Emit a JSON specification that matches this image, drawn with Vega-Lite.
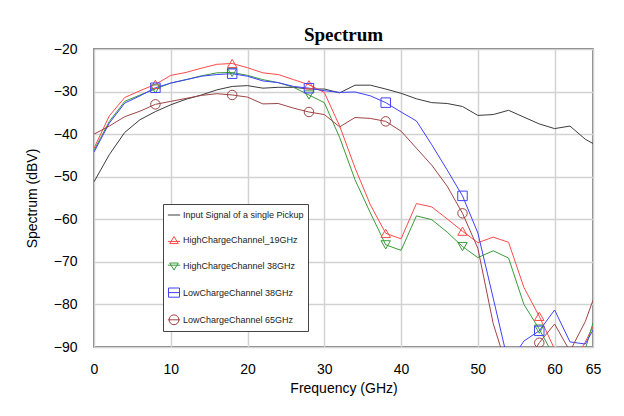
{
  "$schema": "https://vega.github.io/schema/vega-lite/v6.json",
  "width": 499,
  "height": 298,
  "autosize": {"type": "none"},
  "padding": {"left": 94, "top": 49, "right": 31, "bottom": 69},
  "background": "white",
  "title": {"text": "Spectrum", "font": "Liberation Serif", "fontSize": 19, "fontWeight": "bold", "color": "#000000", "anchor": "middle", "offset": -3},
  "data": {"values": [
    {"f": 0, "Input Signal of a single Pickup": -51.2, "HighChargeChannel_19GHz": -43.3, "HighChargeChannel 38GHz": -43.8, "LowChargeChannel 38GHz": -44.2, "LowChargeChannel 65GHz": -40.0},
    {"f": 2, "Input Signal of a single Pickup": -44.8, "HighChargeChannel_19GHz": -35.7, "HighChargeChannel 38GHz": -37.0, "LowChargeChannel 38GHz": -37.4, "LowChargeChannel 65GHz": -38.1},
    {"f": 4, "Input Signal of a single Pickup": -39.6, "HighChargeChannel_19GHz": -31.4, "HighChargeChannel 38GHz": -32.3, "LowChargeChannel 38GHz": -32.7, "LowChargeChannel 65GHz": -35.9},
    {"f": 6, "Input Signal of a single Pickup": -36.6, "HighChargeChannel_19GHz": -29.8, "HighChargeChannel 38GHz": -30.8, "LowChargeChannel 38GHz": -31.0, "LowChargeChannel 65GHz": -34.6},
    {"f": 8, "Input Signal of a single Pickup": -34.7, "HighChargeChannel_19GHz": -28.3, "HighChargeChannel 38GHz": -29.4, "LowChargeChannel 38GHz": -29.1, "LowChargeChannel 65GHz": -33.0},
    {"f": 10, "Input Signal of a single Pickup": -33.1, "HighChargeChannel_19GHz": -26.2, "HighChargeChannel 38GHz": -28.0, "LowChargeChannel 38GHz": -28.0, "LowChargeChannel 65GHz": -32.3},
    {"f": 12, "Input Signal of a single Pickup": -31.8, "HighChargeChannel_19GHz": -25.5, "HighChargeChannel 38GHz": -27.2, "LowChargeChannel 38GHz": -27.2, "LowChargeChannel 65GHz": -31.6},
    {"f": 14, "Input Signal of a single Pickup": -30.8, "HighChargeChannel_19GHz": -24.5, "HighChargeChannel 38GHz": -26.3, "LowChargeChannel 38GHz": -26.4, "LowChargeChannel 65GHz": -30.9},
    {"f": 16, "Input Signal of a single Pickup": -29.6, "HighChargeChannel_19GHz": -23.6, "HighChargeChannel 38GHz": -25.6, "LowChargeChannel 38GHz": -26.0, "LowChargeChannel 65GHz": -30.5},
    {"f": 18, "Input Signal of a single Pickup": -28.8, "HighChargeChannel_19GHz": -23.4, "HighChargeChannel 38GHz": -25.5, "LowChargeChannel 38GHz": -25.8, "LowChargeChannel 65GHz": -30.8},
    {"f": 20, "Input Signal of a single Pickup": -28.6, "HighChargeChannel_19GHz": -24.4, "HighChargeChannel 38GHz": -26.2, "LowChargeChannel 38GHz": -26.4, "LowChargeChannel 65GHz": -31.3},
    {"f": 22, "Input Signal of a single Pickup": -29.2, "HighChargeChannel_19GHz": -25.6, "HighChargeChannel 38GHz": -27.2, "LowChargeChannel 38GHz": -27.5, "LowChargeChannel 65GHz": -32.9},
    {"f": 24, "Input Signal of a single Pickup": -29.0, "HighChargeChannel_19GHz": -26.0, "HighChargeChannel 38GHz": -27.9, "LowChargeChannel 38GHz": -27.9, "LowChargeChannel 65GHz": -32.8},
    {"f": 26, "Input Signal of a single Pickup": -29.0, "HighChargeChannel_19GHz": -27.2, "HighChargeChannel 38GHz": -29.0, "LowChargeChannel 38GHz": -28.8, "LowChargeChannel 65GHz": -33.9},
    {"f": 28, "Input Signal of a single Pickup": -29.4, "HighChargeChannel_19GHz": -28.4, "HighChargeChannel 38GHz": -30.8, "LowChargeChannel 38GHz": -29.2, "LowChargeChannel 65GHz": -34.8},
    {"f": 30, "Input Signal of a single Pickup": -29.4, "HighChargeChannel_19GHz": -30.2, "HighChargeChannel 38GHz": -32.6, "LowChargeChannel 38GHz": -29.8, "LowChargeChannel 65GHz": -35.4},
    {"f": 32, "Input Signal of a single Pickup": -30.3, "HighChargeChannel_19GHz": -38.1, "HighChargeChannel 38GHz": -40.8, "LowChargeChannel 38GHz": -30.2, "LowChargeChannel 65GHz": -38.3},
    {"f": 34, "Input Signal of a single Pickup": -28.5, "HighChargeChannel_19GHz": -47.9, "HighChargeChannel 38GHz": -50.7, "LowChargeChannel 38GHz": -30.1, "LowChargeChannel 65GHz": -36.1},
    {"f": 36, "Input Signal of a single Pickup": -28.5, "HighChargeChannel_19GHz": -56.6, "HighChargeChannel 38GHz": -58.5, "LowChargeChannel 38GHz": -31.0, "LowChargeChannel 65GHz": -36.3},
    {"f": 38, "Input Signal of a single Pickup": -29.4, "HighChargeChannel_19GHz": -63.3, "HighChargeChannel 38GHz": -66.0, "LowChargeChannel 38GHz": -32.6, "LowChargeChannel 65GHz": -37.0},
    {"f": 40, "Input Signal of a single Pickup": -30.4, "HighChargeChannel_19GHz": -64.6, "HighChargeChannel 38GHz": -67.3, "LowChargeChannel 38GHz": -34.8, "LowChargeChannel 65GHz": -39.3},
    {"f": 42, "Input Signal of a single Pickup": -31.7, "HighChargeChannel_19GHz": -56.3, "HighChargeChannel 38GHz": -59.2, "LowChargeChannel 38GHz": -36.9, "LowChargeChannel 65GHz": -43.3},
    {"f": 44, "Input Signal of a single Pickup": -32.6, "HighChargeChannel_19GHz": -57.1, "HighChargeChannel 38GHz": -60.1, "LowChargeChannel 38GHz": -42.5, "LowChargeChannel 65GHz": -47.3},
    {"f": 46, "Input Signal of a single Pickup": -32.8, "HighChargeChannel_19GHz": -59.9, "HighChargeChannel 38GHz": -63.0, "LowChargeChannel 38GHz": -48.4, "LowChargeChannel 65GHz": -52.2},
    {"f": 48, "Input Signal of a single Pickup": -33.5, "HighChargeChannel_19GHz": -62.8, "HighChargeChannel 38GHz": -66.4, "LowChargeChannel 38GHz": -54.5, "LowChargeChannel 65GHz": -58.6},
    {"f": 50, "Input Signal of a single Pickup": -35.6, "HighChargeChannel_19GHz": -65.5, "HighChargeChannel 38GHz": -69.0, "LowChargeChannel 38GHz": -63.2, "LowChargeChannel 65GHz": -66.8},
    {"f": 52, "Input Signal of a single Pickup": -35.4, "HighChargeChannel_19GHz": -64.2, "HighChargeChannel 38GHz": -67.4, "LowChargeChannel 38GHz": -78.5, "LowChargeChannel 65GHz": -84.5},
    {"f": 54, "Input Signal of a single Pickup": -34.4, "HighChargeChannel_19GHz": -65.4, "HighChargeChannel 38GHz": -69.1, "LowChargeChannel 38GHz": -94.0, "LowChargeChannel 65GHz": -96.0},
    {"f": 56, "Input Signal of a single Pickup": -36.0, "HighChargeChannel_19GHz": -76.0, "HighChargeChannel 38GHz": -80.0, "LowChargeChannel 38GHz": -88.6, "LowChargeChannel 65GHz": -95.0},
    {"f": 58, "Input Signal of a single Pickup": -37.6, "HighChargeChannel_19GHz": -82.8, "HighChargeChannel 38GHz": -85.8, "LowChargeChannel 38GHz": -86.2, "LowChargeChannel 65GHz": -89.0},
    {"f": 60, "Input Signal of a single Pickup": -38.7, "HighChargeChannel_19GHz": -90.5, "HighChargeChannel 38GHz": -92.5, "LowChargeChannel 38GHz": -81.3, "LowChargeChannel 65GHz": -84.6},
    {"f": 62, "Input Signal of a single Pickup": -38.1, "HighChargeChannel_19GHz": -95.0, "HighChargeChannel 38GHz": -97.0, "LowChargeChannel 38GHz": -88.8, "LowChargeChannel 65GHz": -91.0},
    {"f": 64, "Input Signal of a single Pickup": -41.2, "HighChargeChannel_19GHz": -88.8, "HighChargeChannel 38GHz": -90.5, "LowChargeChannel 38GHz": -89.3, "LowChargeChannel 65GHz": -84.0},
    {"f": 65, "Input Signal of a single Pickup": -42.2, "HighChargeChannel_19GHz": -85.2, "HighChargeChannel 38GHz": -84.3, "LowChargeChannel 38GHz": -86.0, "LowChargeChannel 65GHz": -79.0}
  ]},
  "transform": [
    {"fold": ["Input Signal of a single Pickup", "HighChargeChannel_19GHz", "HighChargeChannel 38GHz", "LowChargeChannel 38GHz", "LowChargeChannel 65GHz"], "as": ["s", "v"]}
  ],
  "encoding": {
    "x": {
      "field": "f", "type": "quantitative", "title": "Frequency (GHz)",
      "scale": {"domain": [0, 65], "nice": false, "zero": false},
      "axis": {"values": [0, 10, 20, 30, 40, 50, 60, 65], "ticks": false, "domain": false, "grid": true, "gridColor": "#d2d2d2", "gridWidth": 1.5,
               "labelFont": "Liberation Sans", "labelFontSize": 14, "labelColor": "#000000", "labelPadding": 15, "labelFlush": false, "labelOverlap": false,
               "titleFont": "Liberation Sans", "titleFontSize": 14, "titleFontWeight": "normal", "titleColor": "#000000", "titlePadding": 5}
    },
    "y": {
      "field": "v", "type": "quantitative", "title": "Spectrum (dBV)",
      "scale": {"domain": [-90, -20], "nice": false, "zero": false},
      "axis": {"values": [-20, -30, -40, -50, -60, -70, -80, -90], "ticks": false, "domain": false, "grid": true, "gridColor": "#d2d2d2", "gridWidth": 1.5,
               "labelFont": "Liberation Sans", "labelFontSize": 14, "labelColor": "#000000", "labelPadding": 17, "labelFlush": false, "labelOverlap": false,
               "titleFont": "Liberation Sans", "titleFontSize": 14, "titleFontWeight": "normal", "titleColor": "#000000", "titlePadding": 14}
    },
    "color": {
      "field": "s", "type": "nominal",
      "scale": {"domain": ["Input Signal of a single Pickup", "HighChargeChannel_19GHz", "HighChargeChannel 38GHz", "LowChargeChannel 38GHz", "LowChargeChannel 65GHz"],
                "range": ["#3c3c3c", "#ff4a4a", "#3a9a3a", "#4040ff", "#a04444"]},
      "legend": {
        "orient": "none", "legendX": 69, "legendY": 155, "title": null,
        "fillColor": "#ffffff", "strokeColor": "#444444", "padding": 4, "rowPadding": 13.2,
        "labelFont": "Liberation Sans", "labelFontSize": 9, "labelColor": "#222222", "labelLimit": 220, "labelOffset": 2,
        "symbolSize": 150, "symbolStrokeWidth": 1, "symbolType": "stroke",
        "encode": {
          "symbols": {"update": {
            "fill": {"value": "transparent"},
            "shape": {"signal": "datum.value === 'HighChargeChannel_19GHz' ? 'M-1,0.2H1M0,-0.6L0.7,0.55L-0.7,0.55Z' : datum.value === 'HighChargeChannel 38GHz' ? 'M-1,-0.2H1M0,0.6L0.7,-0.55L-0.7,-0.55Z' : datum.value === 'LowChargeChannel 38GHz' ? 'M-1,0H1M-0.9,-0.75H0.9V0.75H-0.9Z' : datum.value === 'LowChargeChannel 65GHz' ? 'M-1,0H1M0.8,0A0.8,0.8,0,1,1,-0.8,0A0.8,0.8,0,1,1,0.8,0Z' : 'M-1,0H1'"}
          }}
        }
      }
    }
  },
  "layer": [
    {"mark": {"type": "line", "clip": true, "strokeWidth": 1}},
    {
      "transform": [
        {"filter": {"field": "f", "oneOf": [8, 18, 28, 38, 48, 58]}},
        {"filter": "datum.s !== 'Input Signal of a single Pickup'"}
      ],
      "mark": {"type": "point", "clip": true, "filled": false, "size": 90, "strokeWidth": 1, "opacity": 1},
      "encoding": {
        "shape": {"field": "s", "type": "nominal",
                  "scale": {"domain": ["HighChargeChannel_19GHz", "HighChargeChannel 38GHz", "LowChargeChannel 38GHz", "LowChargeChannel 65GHz"],
                            "range": ["triangle-up", "triangle-down", "square", "circle"]},
                  "legend": null}
      }
    }
  ],
  "config": {"view": {"stroke": "#555555", "strokeWidth": 1.5}}
}
